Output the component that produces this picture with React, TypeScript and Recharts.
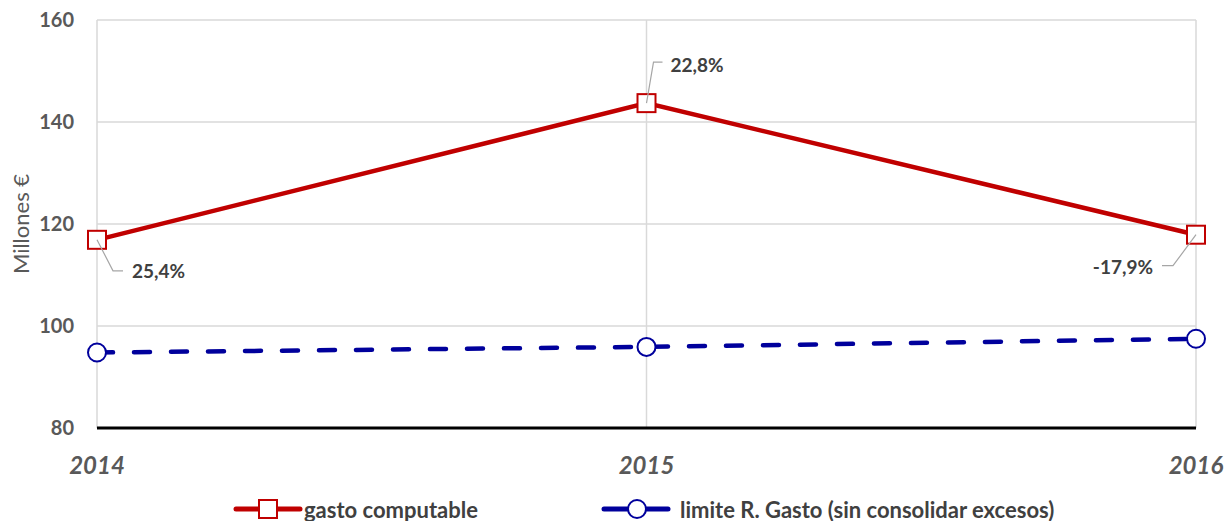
import React from 'react';
import { LineChart, Line, XAxis, YAxis, CartesianGrid, Legend, LabelList } from 'recharts';

const years = ['2014', '2015', '2016'];
const gastoComputable = [116.9, 143.7, 117.9];
const limiteGasto = [94.8, 95.9, 97.5];
const variaciones = ['25,4%', '22,8%', '-17,9%'];
const yTicks = [80, 100, 120, 140, 160];

const data = years.map((y, i) => ({ year: y, gasto: gastoComputable[i], limite: limiteGasto[i], pct: variaciones[i] }));

const FONT = 'Lato, "Liberation Sans", Arial, sans-serif';
const RED = '#C00000';
const BLUE = '#00009C';

const SquareDot = (props: any) => {
  const { cx, cy } = props;
  if (cx == null || cy == null) return null;
  return <rect x={cx - 9} y={cy - 9} width={18} height={18} fill="#fff" stroke={RED} strokeWidth={2} />;
};
const CircleDot = (props: any) => {
  const { cx, cy } = props;
  if (cx == null || cy == null) return null;
  return <circle cx={cx} cy={cy} r={9} fill="#fff" stroke={BLUE} strokeWidth={2} />;
};

const labelLayout = [
  { p1: [16, 31], p2: [26, 31], tx: 35, ty: 31, anchor: 'start' },
  { p1: [7, -41], p2: [16, -41], tx: 24, ty: -39, anchor: 'start' },
  { p1: [-23, 31], p2: [-34, 31], tx: -43, ty: 32, anchor: 'end' },
];

const PctLabel = (props: any) => {
  const { x, y, index, value } = props;
  const l = labelLayout[index];
  if (!l || x == null) return null;
  return (
    <g>
      <polyline
        points={`${x},${y} ${x + l.p1[0]},${y + l.p1[1]} ${x + l.p2[0]},${y + l.p2[1]}`}
        fill="none"
        stroke="#A6A6A6"
        strokeWidth={1.2}
      />
      <text x={x + l.tx} y={y + l.ty} textAnchor={l.anchor} dominantBaseline="central" fontFamily={FONT} fontWeight="bold" fontSize={19} fill="#404040">
        {value}
      </text>
    </g>
  );
};

const YLabel = (props: any) => {
  const vb = props.viewBox || { y: 20, height: 408 };
  const cy = vb.y + vb.height / 2;
  return (
    <text transform={`translate(20, ${cy}) rotate(-90)`} textAnchor="middle" dominantBaseline="central" fontFamily={FONT} fontSize={22} fill="#595959">
      Millones €
    </text>
  );
};

const legendItems = [
  { name: 'gasto computable', color: RED, kind: 'square', lineX: 236, textX: 304 },
  { name: 'limite R. Gasto (sin consolidar excesos)', color: BLUE, kind: 'circle', lineX: 604, textX: 680 },
];

const CustomLegend = () => (
  <svg width={1228} height={40} style={{ display: 'block' }}>
    {legendItems.map((it) => (
      <g key={it.name}>
        <line x1={it.lineX} y1={19} x2={it.lineX + 64} y2={19} stroke={it.color} strokeWidth={5} strokeLinecap="round" />
        {it.kind === 'square' ? (
          <rect x={it.lineX + 23} y={10} width={18} height={18} fill="#fff" stroke={it.color} strokeWidth={2} />
        ) : (
          <circle cx={it.lineX + 33} cy={19} r={9} fill="#fff" stroke={it.color} strokeWidth={2} />
        )}
        <text x={it.textX} y={19} dominantBaseline="central" fontFamily={FONT} fontWeight="bold" fontSize={22} fill="#404040">
          {it.name}
        </text>
      </g>
    ))}
  </svg>
);

export default function App() {
  return (
    <div style={{ position: 'absolute', left: 0, top: 0, width: 1228, height: 521, background: '#fff' }}>
      <LineChart width={1228} height={521} data={data} margin={{ top: 20, right: 32, bottom: 63, left: 0 }}>
        <CartesianGrid stroke="#D9D9D9" strokeWidth={1.5} vertical={true} horizontal={true} />
        <XAxis
          dataKey="year"
          padding={{ left: 0, right: 0 }}
          axisLine={{ stroke: '#000', strokeWidth: 3 }}
          tickLine={false}
          tickSize={0}
          tickMargin={29}
          tick={{ fontFamily: FONT, fontSize: 24, fontWeight: 'bold', fontStyle: 'italic', fill: '#595959' }}
        />
        <YAxis
          width={97}
          domain={[80, 160]}
          ticks={yTicks}
          axisLine={false}
          tickLine={false}
          tickSize={0}
          tickMargin={23}
          tick={{ fontFamily: FONT, fontSize: 20, fontWeight: 'bold', fill: '#595959' }}
          label={<YLabel />}
        />
        <Legend verticalAlign="middle" align="center" layout="horizontal" content={<CustomLegend />} wrapperStyle={{ top: 490, left: 0, width: 1228, height: 40 }} />
        <Line
          type="linear"
          dataKey="gasto"
          stroke={RED}
          strokeWidth={4.5}
          dot={<SquareDot />}
          activeDot={false}
          isAnimationActive={false}
        >
          <LabelList dataKey="pct" content={<PctLabel />} />
        </Line>
        <Line
          type="linear"
          dataKey="limite"
          stroke={BLUE}
          strokeWidth={4.5}
          strokeDasharray="16 21"
          strokeLinecap="round"
          dot={<CircleDot />}
          activeDot={false}
          isAnimationActive={false}
        />
      </LineChart>
    </div>
  );
}
